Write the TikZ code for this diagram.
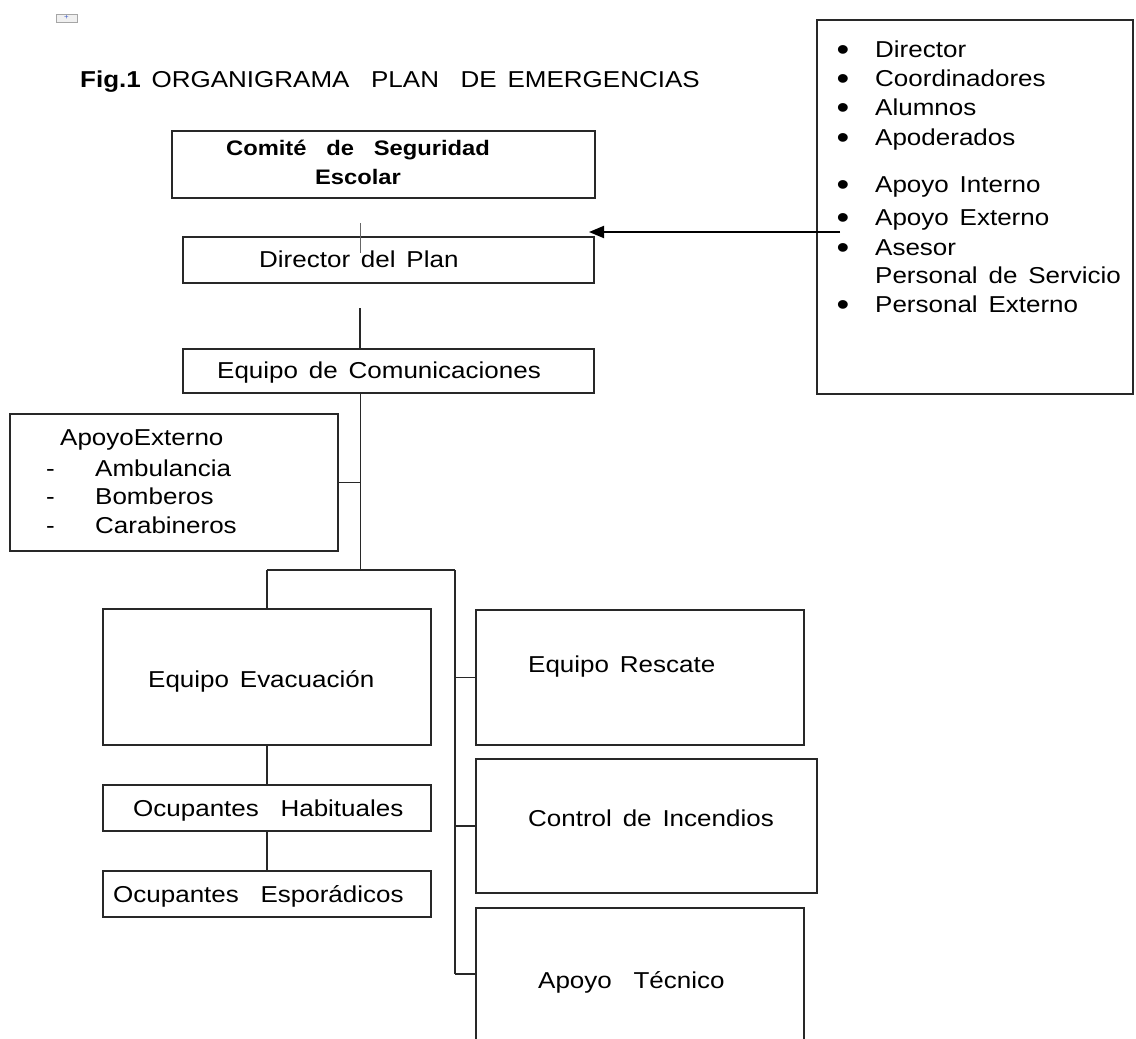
\documentclass[tikz,border=0pt]{standalone}
\usepackage{fontspec}
\setmainfont{Liberation Sans}[FakeStretch=1.13,WordSpace=1.5]
\usetikzlibrary{arrows.meta}
\definecolor{linec}{RGB}{40,40,40}
\definecolor{iconblue}{RGB}{60,90,200}
\tikzset{
  box/.style={draw=linec, line width=1.9pt, inner sep=0pt, outer sep=0pt},
  conn/.style={draw=linec, line width=1.9pt},
  txt/.style={anchor=base west, inner sep=0pt, font=\fontsize{23}{27}\selectfont},
  btxt/.style={anchor=base, inner sep=0pt, font=\fontsize{21}{25}\selectfont\bfseries},
  bul/.style={anchor=base, inner sep=0pt, font=\fontsize{32}{32}\selectfont},
}
\begin{document}
\begin{tikzpicture}[x=1pt,y=-1pt]
\useasboundingbox (0,0) rectangle (1136,1039);
\clip (0,0) rectangle (1136,1039);
\fill[white] (0,0) rectangle (1136,1039);

% small placeholder icon
\node[draw=black!35, fill=black!6, line width=0.8pt, minimum width=21pt, minimum height=8pt, inner sep=0pt] (icon) at (66.5,18) {};
\node[inner sep=0pt, text=iconblue, font=\fontsize{7}{7}\selectfont] (iconplus) at (66.5,17.5) {+};

% title
\node[txt, font=\fontsize{23}{27}\selectfont] (title) at (80,87) {\textbf{Fig.1} ORGANIGRAMA\ \ PLAN\ \ DE EMERGENCIAS};

% boxes
\node[box, minimum width=423pt, minimum height=67pt] (comite) at (383.5,164.5) {};
\node[btxt] (comite1) at (358,155) {Comité\ \ de\ \ Seguridad};
\node[btxt] (comite2) at (358,184) {Escolar};

\node[box, minimum width=411pt, minimum height=46pt] (director) at (388.5,260) {};
\node[txt] (directort) at (259,267) {Director\ del\ Plan};

\node[box, minimum width=411pt, minimum height=44pt] (comunic) at (388.5,371) {};
\node[txt] (comunict) at (217,378) {Equipo de Comunicaciones};

\node[box, minimum width=316pt, minimum height=374pt] (lista) at (975,207) {};
\foreach \y/\t [count=\i] in {57/Director,86/Coordinadores,115/Alumnos,145/Apoderados,192/Apoyo\ Interno,225/Apoyo\ Externo,255/Asesor,312/Personal\ Externo}{
  \node[bul] (bul\i) at (843,\y+3) {•};
  \node[txt] (li\i) at (875,\y) {\t};
}
\node[txt] (li9) at (875,283) {Personal\ de\ Servicio};

\node[box, minimum width=328pt, minimum height=137pt] (apext) at (174,482.5) {};
\node[txt] (apextt) at (60,445) {ApoyoExterno};
\foreach \y/\t [count=\i] in {476/Ambulancia,504/Bomberos,533/Carabineros}{
  \node[txt] (dash\i) at (46,\y) {-};
  \node[txt] (ae\i) at (95,\y) {\t};
}

\node[box, minimum width=328pt, minimum height=136pt] (evac) at (267,677) {};
\node[txt] (evact) at (148,687) {Equipo\ Evacuación};

\node[box, minimum width=328pt, minimum height=46pt] (habit) at (267,808) {};
\node[txt] (habitt) at (133,816) {Ocupantes\ \ Habituales};

\node[box, minimum width=328pt, minimum height=46pt] (espor) at (267,894) {};
\node[txt] (esport) at (113,902) {Ocupantes\ \ Esporádicos};

\node[box, minimum width=328pt, minimum height=135pt] (rescate) at (640,677.5) {};
\node[txt] (rescatet) at (528,672) {Equipo Rescate};

\node[box, minimum width=341pt, minimum height=134pt] (incend) at (646.5,826) {};
\node[txt] (incendt) at (528,826) {Control\ de\ Incendios};

\node[box, minimum width=328pt, minimum height=172pt] (tecnico) at (640,994) {};
\node[txt] (tecnicot) at (538,988) {Apoyo\ \ Técnico};

% coordinates for connectors
\coordinate (tickA) at (360,223);
\coordinate (tickB) at (360,253);
\coordinate (dcA) at (360,308);
\coordinate (trunkTop) at (360.5,393);
\coordinate (trunkJ) at (360.5,570);
\coordinate (apJ) at (360.5,482.5);
\coordinate (leftJ) at (267,570);
\coordinate (rightJ) at (455,570);
\coordinate (rJ1) at (455,677.5);
\coordinate (rJ2) at (455,826);
\coordinate (rJ3) at (455,974);
\coordinate (arrS) at (840,232);
\coordinate (arrT) at (589,232);

% connectors
\draw[draw=black!60, line width=0.8pt] (tickA) -- (tickB);
\draw[conn] (dcA) -- (dcA |- comunic.north);
\draw[conn] (trunkTop) -- (trunkJ);
\draw[conn] (apext.east) -- (apJ);
\draw[conn] (leftJ) -- (rightJ);
\draw[conn] (leftJ) -- (leftJ |- evac.north);
\draw[conn] (rightJ) -- (rJ3);
\draw[conn] (rJ1) -- (rescate.west);
\draw[conn] (rJ2) -- (incend.west);
\draw[conn] (rJ3) -- (rJ3 -| tecnico.west);
\draw[conn] (evac.south) -- (habit.north);
\draw[conn] (habit.south) -- (espor.north);
\draw[draw=black, line width=1.9pt, -{Triangle[length=15pt,width=12pt]}] (arrS) -- (arrT);
\end{tikzpicture}
\end{document}
